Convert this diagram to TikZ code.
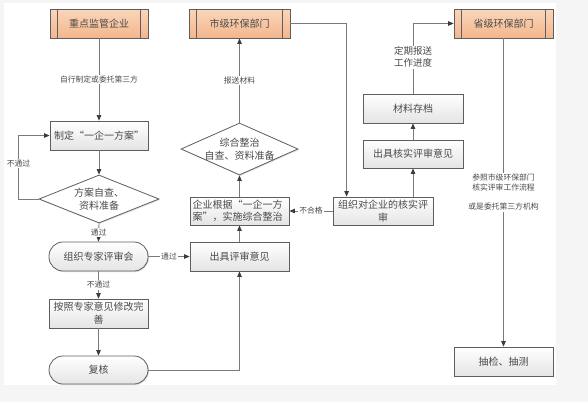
\documentclass[tikz,border=0pt]{standalone}
\usepackage{fontspec}
\setmainfont{Noto Sans CJK SC}
\usetikzlibrary{arrows.meta,shapes.geometric,shadows}
\definecolor{txt}{HTML}{4A4A4A}
\definecolor{bord}{HTML}{5E5E5E}
\definecolor{lin}{HTML}{7A7A7A}
\definecolor{tip}{HTML}{3C3C3C}
\definecolor{orgtop}{HTML}{FAD6BA}
\definecolor{orgbot}{HTML}{F3B68C}
\definecolor{boxbot}{HTML}{E4E4E4}
\definecolor{bgpat}{HTML}{F5F5F5}
\tikzset{
  base/.style={draw=bord, line width=0.8pt, text=txt, font=\fontsize{10}{13}\selectfont, inner sep=1pt,
    drop shadow={shadow xshift=1pt, shadow yshift=-1pt, opacity=0.25}},
  procbox/.style={base, rectangle, top color=white, bottom color=boxbot, align=center},
  orgbox/.style={base, rectangle, top color=orgtop, bottom color=orgbot},
  stadium/.style={base, rectangle, rounded corners=14pt, top color=white, bottom color=boxbot},
  decide/.style={base, diamond, top color=white, bottom color=white, inner sep=0pt},
  conn/.style={draw=lin, line width=0.9pt, -{Triangle[length=5.5pt,width=4.5pt,color=tip]}},
  plain/.style={draw=lin, line width=0.9pt},
  lab/.style={fill=white, text=txt, font=\fontsize{7.8}{10}\selectfont, inner sep=1pt, align=center},
  dtext/.style={text=txt, font=\fontsize{10}{13}\selectfont, align=center}
}
\begin{document}
\begin{tikzpicture}[x=1pt,y=-1pt]
\fill[bgpat] (0,0) rectangle (588,402);
\fill[white] (4,3) rectangle (556,385);
\useasboundingbox (0,0) rectangle (588,402);

% orange headers
\node[orgbox, minimum width=98pt, minimum height=29pt] (zd) at (99,23.5) {重点监管企业};
\node[orgbox, minimum width=101pt, minimum height=29pt] (sj) at (239.5,23.5) {市级环保部门};
\node[orgbox, minimum width=99pt, minimum height=29pt] (sheng) at (503.5,23.5) {省级环保部门};
\foreach \n in {zd,sj,sheng}{
  \draw[bord, line width=0.8pt] ([xshift=8pt]\n.north west) -- ([xshift=8pt]\n.south west);
  \draw[bord, line width=0.8pt] ([xshift=-8pt]\n.north east) -- ([xshift=-8pt]\n.south east);
}

% left column
\node[procbox, minimum width=98pt, minimum height=29pt] (zhiding) at (99,135.5) {制定“一企一方案”};
\node[decide, minimum width=120pt, minimum height=48pt] (d1) at (99,199) {};
\node[dtext] (d1t) at (99,199) {方案自查、\\资料准备};
\node[stadium, minimum width=99pt, minimum height=29pt] (s1) at (98.5,256.5) {组织专家评审会};
\node[procbox, minimum width=99pt, minimum height=29pt, text width=94pt] (xg) at (98.5,313.5) {按照专家意见修改完\\善};
\node[stadium, minimum width=99pt, minimum height=28pt] (fh) at (98.5,370) {复核};

% middle column
\node[procbox, minimum width=99pt, minimum height=29pt] (cj) at (239.5,256.5) {出具评审意见};
\node[procbox, minimum width=99pt, minimum height=28pt, text width=94pt, align=left, font=\fontsize{10}{12.5}\selectfont] (qy) at (239.5,211) {企业根据“一企一方\\案”，实施综合整治};
\node[decide, minimum width=117pt, minimum height=52pt] (d2) at (239.5,149) {};
\node[dtext] (d2t) at (239.5,149) {综合整治\\自查、资料准备};

% right columns
\node[procbox, minimum width=100pt, minimum height=28pt, font=\fontsize{10}{12.5}\selectfont] (hs) at (383,211) {组织对企业的核实评\\审};
\node[procbox, minimum width=100pt, minimum height=28pt] (hy) at (413,154) {出具核实评审意见};
\node[procbox, minimum width=100pt, minimum height=29pt] (cl) at (413,108.5) {材料存档};
\node[procbox, minimum width=99pt, minimum height=29pt] (cc) at (503.5,361.5) {抽检、抽测};

% connectors
\draw[conn] (zd.south) -- node[lab] {自行制定或委托第三方} (zhiding.north);
\draw[conn] (zhiding.south) -- (d1.north);
\draw[conn] (d1.west) -- ++(-20,0) |- node[lab, pos=0.28] {不通过} (zhiding.west);
\draw[conn] (d1.south) -- node[lab] {通过} (s1.north);
\draw[conn] (s1.east) -- node[lab] {通过} (cj.west);
\draw[conn] (s1.south) -- node[lab] {不通过} (xg.north);
\draw[conn] (xg.south) -- (fh.north);
\draw[conn] (fh.east) -| (cj.south);
\draw[conn] (cj.north) -- (qy.south);
\draw[conn] (qy.north) -- (d2.south);
\draw[conn] (d2.north) -- node[lab] {报送材料} (sj.south);
\draw[conn] (sj.east) -| ([xshift=14pt]hs.north west);
\draw[conn] (hs.west) -- node[lab] {不合格} (qy.east);
\draw[conn] (hs.north -| hy.south) -- (hy.south);
\draw[conn] (hy.north) -- (cl.south);
\draw[conn] (cl.north) |- node[lab, pos=0.26, font=\fontsize{9.5}{12}\selectfont] {定期报送\\工作进度} (sheng.west);
\draw[conn] (sheng.south) -- node[lab] {参照市级环保部门\\核实评审工作流程\\[9pt]或是委托第三方机构} (cc.north);
\end{tikzpicture}
\end{document}
